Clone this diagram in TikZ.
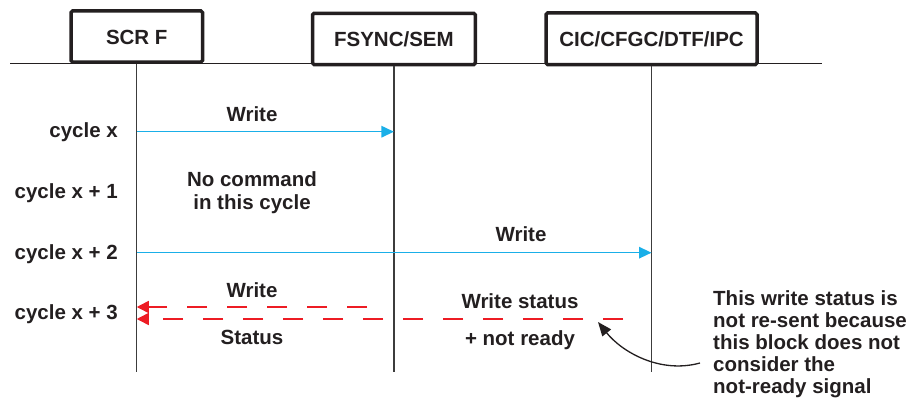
\documentclass[tikz,border=0pt]{standalone}
\usepackage{fontspec}
\setmainfont{Liberation Sans}
\usetikzlibrary{arrows.meta}
\definecolor{ink}{HTML}{231F20}
\definecolor{msgblue}{HTML}{1AAFE8}
\definecolor{msgred}{HTML}{ED1C24}
\definecolor{life}{HTML}{3C3C3C}
\newcommand{\diagfont}{\bfseries\fontsize{20.5}{22}\selectfont}
\begin{document}
\begin{tikzpicture}[x=1pt,y=-1pt,
  block/.style={draw=ink, line width=3.5pt, fill=white, rounded corners=1.5pt,
    inner sep=0pt, text height=16pt, text depth=0pt, font=\diagfont, text=ink},
  lbl/.style={inner sep=0pt, anchor=base, font=\diagfont, text=ink},
  cyc/.style={lbl, anchor=base east},
  note/.style={lbl, anchor=base west},
  lifeline/.style={draw=life, line width=1.2pt},
  sendmsg/.style={color=msgblue, line width=1.5pt,
    -{Triangle[length=12.5pt,width=11.5pt]}},
  replymsg/.style={color=msgred, line width=1.5pt, dash pattern=on 20pt off 20pt,
    -{Triangle[length=12pt,width=12pt]}},
  pointer/.style={color=ink, line width=1.3pt,
    -{Triangle[length=14pt,width=11pt]}}]
\useasboundingbox (0,0) rectangle (917,404);

% lifeline positions
\def\xs{136.75}
\def\xf{393.9}
\def\xc{651.5}

% horizontal rule under the headers
\coordinate (ruleL) at (10,63);
\coordinate (ruleR) at (822,63);
\draw[ink, line width=1pt] (ruleL) -- (ruleR);

% header blocks
\node[block, minimum width=131.5pt, minimum height=51pt] (scr) at (\xs,36.5) {SCR F};
\node[block, minimum width=162.8pt, minimum height=51.2pt] (fsync) at (\xf,38.9) {FSYNC/SEM};
\node[block, minimum width=211pt, minimum height=51.5pt] (cic) at (\xc,38.75) {CIC/CFGC/DTF/IPC};

% lifelines
\coordinate (scrEnd) at (\xs,372);
\coordinate (fsyncEnd) at (\xf,372);
\coordinate (cicEnd) at (\xc,372);
\draw[lifeline] (scr.south) -- (scrEnd);
\draw[lifeline] (fsync.south) -- (fsyncEnd);
\draw[lifeline] (cic.south) -- (cicEnd);

% cycle labels
\node[cyc] (c0) at (118,137) {cycle x};
\node[cyc] (c1) at (118,198) {cycle x + 1};
\node[cyc] (c2) at (118,259) {cycle x + 2};
\node[cyc] (c3) at (118,319) {cycle x + 3};

% cycle x: write to FSYNC/SEM
\coordinate (w1a) at (\xs,131.7);
\coordinate (w1b) at (\xf,131.7);
\draw[sendmsg] (w1a) -- (w1b);
\node[lbl] (w1lbl) at (252,121) {Write};

% cycle x + 1
\node[lbl] (idle1) at (252,186) {No command};
\node[lbl] (idle2) at (252,209) {in this cycle};

% cycle x + 2: write to CIC/CFGC/DTF/IPC
\coordinate (w2a) at (\xs,252.7);
\coordinate (w2b) at (\xc,252.7);
\draw[sendmsg] (w2a) -- (w2b);
\node[lbl] (w2lbl) at (521,241.7) {Write};

% cycle x + 3: replies back to SCR F
\coordinate (r1a) at (367,307);
\coordinate (r1b) at (\xs,307);
\coordinate (r2a) at (623,319);
\coordinate (r2b) at (\xs,319);
\draw[replymsg] (r1a) -- (r1b);
\draw[replymsg] (r2a) -- (r2b);
\node[lbl] (r1lbl) at (252,297.5) {Write};
\node[lbl] (r2lbl) at (252,344) {Status};
\node[lbl] (r3lbl) at (520,308.3) {Write status};
\node[lbl] (r4lbl) at (520,345) {+ not ready};

% side remark
\node[note] (n1) at (713,305) {This write status is};
\node[note] (n2) at (713,327) {not re-sent because};
\node[note] (n3) at (713,349) {this block does not};
\node[note] (n4) at (713,371) {consider the};
\node[note] (n5) at (713,393) {not-ready signal};
\coordinate (noteTail) at (700,363);
\coordinate (noteTip) at (598,322);
\draw[pointer] (noteTail) .. controls (660,374) and (622,352) .. (noteTip);
\end{tikzpicture}
\end{document}
